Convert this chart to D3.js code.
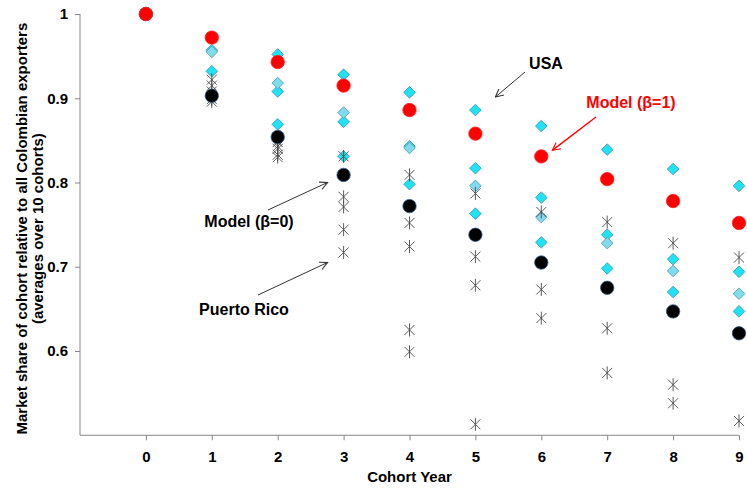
<!DOCTYPE html>
<html>
<head>
<meta charset="utf-8">
<script src="https://cdn.jsdelivr.net/npm/d3@7"></script>
<style>
  html, body { margin: 0; padding: 0; background: #fff; }
  svg { display: block; font-family: "Liberation Sans", Arial, sans-serif; }
</style>
</head>
<body>
<svg id="chart" width="747" height="498"></svg>
<script>
// Cohort years on the horizontal axis
const cohortYears = [0, 1, 2, 3, 4, 5, 6, 7, 8, 9];
const yTicks = [0.6, 0.7, 0.8, 0.9, 1];

// Model predictions
const modelBeta1 = [1, 0.972, 0.943, 0.915, 0.886, 0.858, 0.831, 0.804, 0.778, 0.752];
const modelBeta0 = [1, 0.903, 0.854, 0.809, 0.772, 0.738, 0.705, 0.675, 0.647, 0.621];

// Destinations drawn as diamonds
const destUSA   = [1, 0.957, 0.952, 0.928, 0.907, 0.886, 0.867, 0.839, 0.816, 0.796];
const destB     = [1, 0.932, 0.908, 0.872, 0.843, 0.817, 0.782, 0.738, 0.709, 0.694];
const destC     = [1, 0.904, 0.869, 0.831, 0.798, 0.763, 0.729, 0.698, 0.670, 0.647];
const destLight = [1, 0.955, 0.918, 0.883, 0.841, 0.796, 0.759, 0.728, 0.695, 0.668];

// Destinations drawn as stars
const destStarA  = [1, 0.922, 0.848, 0.831, 0.809, 0.787, 0.765, 0.753, 0.728, 0.711];
const destStarB  = [1, 0.915, 0.843, 0.783, 0.752, 0.712, 0.673, 0.627, 0.560, 0.517];
const destStarC  = [1, 0.908, 0.840, 0.771, 0.724, 0.678, 0.639, 0.574, 0.538, null];
const destStarD  = [1, 0.899, 0.833, 0.744, 0.625, 0.513, null, null, null, null];
const puertoRico = [1, 0.896, 0.830, 0.717, 0.599, null, null, null, null, null];

const svg = d3.select("#chart");

const x = d3.scaleLinear().domain([-1, 9]).range([80, 739]);
const y = d3.scaleLinear().domain([0.5, 1]).range([435.25, 14]);

const axisColor = "#868686";

// Y axis
const yAxis = svg.append("g")
  .attr("transform", `translate(${x(-1)},0)`)
  .call(d3.axisLeft(y).tickValues(yTicks).tickSize(5).tickPadding(7)
    .tickFormat(d => d === 1 ? "1" : d3.format(".1f")(d)));
yAxis.select(".domain").attr("stroke", axisColor).attr("d", `M0,${y(0.5)}V${y(1)}`);
yAxis.selectAll(".tick line").attr("stroke", axisColor);
yAxis.selectAll(".tick text").attr("fill", "#000").style("font-size", "15px").style("font-weight", "bold");

// X axis
const xAxis = svg.append("g")
  .attr("transform", `translate(0,${y(0.5)})`)
  .call(d3.axisBottom(x).tickValues(cohortYears).tickSize(5).tickPadding(11).tickFormat(d3.format("d")));
xAxis.select(".domain").attr("stroke", axisColor).attr("d", `M${x(-1)},0H${x(9)}`);
xAxis.selectAll(".tick line").attr("stroke", axisColor);
xAxis.selectAll(".tick text").attr("fill", "#000").style("font-size", "15px").style("font-weight", "bold");

// Axis titles
svg.append("text")
  .attr("x", (x(-1) + x(9)) / 2).attr("y", 482)
  .attr("text-anchor", "middle")
  .style("font-size", "15px").style("font-weight", "bold")
  .text("Cohort Year");

const yTitle = svg.append("text")
  .attr("transform", `translate(22,${(y(0.5) + y(1)) / 2 + 4}) rotate(-90)`)
  .attr("text-anchor", "middle")
  .style("font-size", "15px").style("font-weight", "bold");
yTitle.append("tspan").attr("x", 0).attr("dy", "0.35em").text("Market share of cohort relative  to all Colombian exporters");
yTitle.append("tspan").attr("x", 0).attr("dy", "1.05em").text("(averages over 10 cohorts)");

// Marker shapes
const diamondPath = "M0,-5.8L5.8,0L0,5.8L-5.8,0Z";
const starPath = "M-5,-5L5,5M-5,5L5,-5M0,-6.5L0,6.5";

function pointsOf(values) {
  return values.map((v, i) => ({ year: cohortYears[i], v })).filter(d => d.v !== null);
}

function drawDiamonds(values, fill, stroke) {
  svg.append("g").selectAll("path").data(pointsOf(values)).join("path")
    .attr("transform", d => `translate(${x(d.year)},${y(d.v)})`)
    .attr("d", diamondPath)
    .attr("fill", fill).attr("stroke", stroke).attr("stroke-width", 0.9);
}

function drawStars(values) {
  svg.append("g").selectAll("path").data(pointsOf(values)).join("path")
    .attr("transform", d => `translate(${x(d.year)},${y(d.v)})`)
    .attr("d", starPath)
    .attr("fill", "none").attr("stroke", "#4a4a4a").attr("stroke-width", 0.9);
}

function drawCircles(values, fill, stroke) {
  svg.append("g").selectAll("circle").data(pointsOf(values)).join("circle")
    .attr("cx", d => x(d.year)).attr("cy", d => y(d.v)).attr("r", 6.7)
    .attr("fill", fill).attr("stroke", stroke).attr("stroke-width", 0.8);
}

drawDiamonds(destUSA, "#1FE3F4", "#3D9DB6");
drawDiamonds(destB, "#1FE3F4", "#3D9DB6");
drawDiamonds(destC, "#1FE3F4", "#3D9DB6");
drawDiamonds(destLight, "#7FDCEF", "#5A9FBA");
[destStarA, destStarB, destStarC, destStarD, puertoRico].forEach(drawStars);
drawCircles(modelBeta0, "#000000", "#2F5C8A");
drawCircles(modelBeta1, "#FF0000", "#FF2020");

// Arrow heads
const defs = svg.append("defs");
function arrowMarker(id, color) {
  defs.append("marker")
    .attr("id", id).attr("viewBox", "0 -5 10 10")
    .attr("refX", 9).attr("refY", 0)
    .attr("markerWidth", 9).attr("markerHeight", 9)
    .attr("markerUnits", "userSpaceOnUse")
    .attr("orient", "auto")
    .append("path").attr("d", "M0,-4.5L9,0L0,4.5")
    .attr("fill", "none").attr("stroke", color).attr("stroke-width", 1.2);
}
arrowMarker("arrowBlack", "#333");
arrowMarker("arrowRed", "#FF0000");

function annotate(label, color, marker, textX, textY, tail, tip) {
  svg.append("line")
    .attr("x1", tail[0]).attr("y1", tail[1]).attr("x2", tip[0]).attr("y2", tip[1])
    .attr("stroke", color === "#FF0000" ? "#FF0000" : "#333")
    .attr("stroke-width", color === "#FF0000" ? 1.4 : 1)
    .attr("marker-end", `url(#${marker})`);
  svg.append("text")
    .attr("x", textX).attr("y", textY).attr("text-anchor", "middle").attr("dy", "0.35em")
    .attr("fill", color).style("font-size", "16px").style("font-weight", "bold")
    .text(label);
}

annotate("USA", "#000", "arrowBlack", 546, 63,
  [525, 72], [x(5) + 20, y(destUSA[5]) - 13]);
annotate("Model (\u03B2=1)", "#FF0000", "arrowRed", 631, 102,
  [596, 117], [x(6) + 11, y(modelBeta1[6]) - 6]);
annotate("Model (\u03B2=0)", "#000", "arrowBlack", 249, 221,
  [268, 210], [x(3) - 16, y(modelBeta0[3]) + 7.5]);
annotate("Puerto Rico", "#000", "arrowBlack", 244, 309,
  [258, 295], [x(3) - 16, y(puertoRico[3]) + 10]);
</script>
</body>
</html>
